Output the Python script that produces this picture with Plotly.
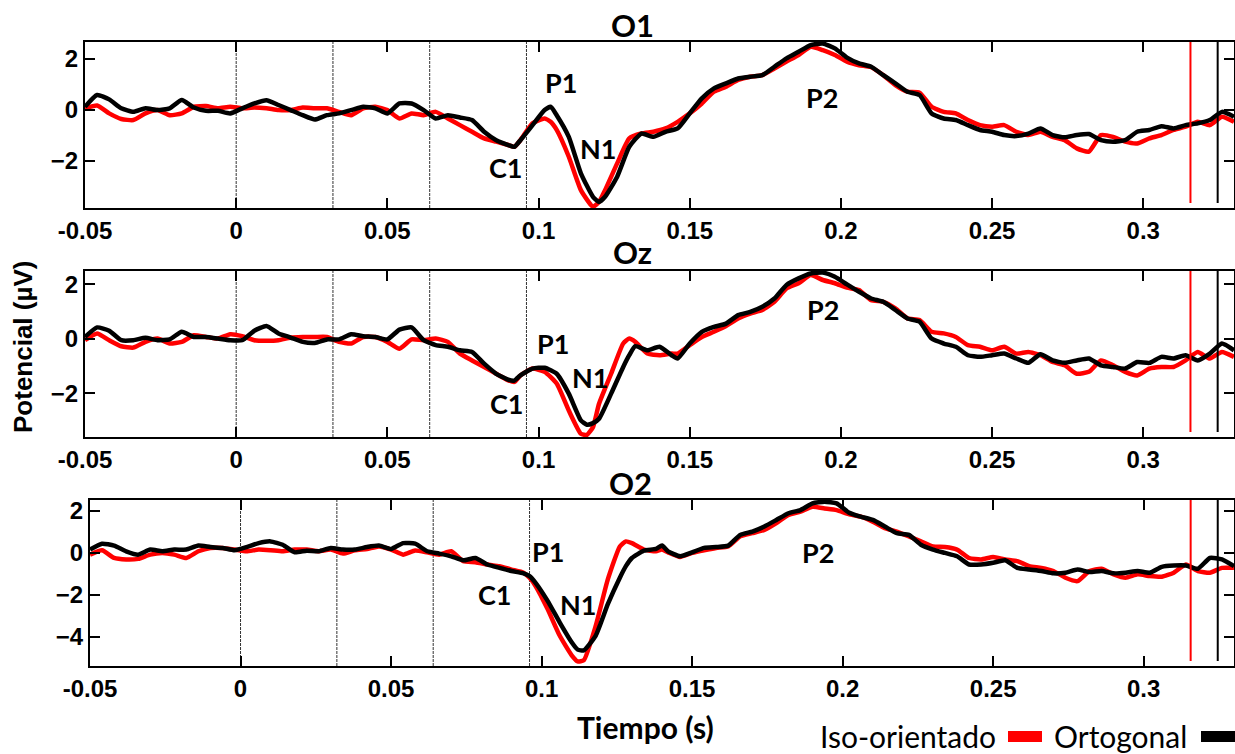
import plotly.graph_objects as go

W, H = 1235, 754

# ---------------- data ----------------
t_o1 = [-0.050, -0.046, -0.042, -0.038, -0.034, -0.030, -0.026, -0.022, -0.018, -0.014,
        -0.010, -0.006, -0.002, 0.002, 0.006, 0.010, 0.014, 0.018, 0.022, 0.026,
        0.030, 0.034, 0.038, 0.042, 0.046, 0.050, 0.054, 0.058, 0.062, 0.066,
        0.070, 0.074, 0.078, 0.082, 0.086, 0.090, 0.092, 0.094, 0.098, 0.102,
        0.104, 0.106, 0.110, 0.114, 0.118, 0.120, 0.122, 0.126, 0.130, 0.134,
        0.138, 0.142, 0.146, 0.150, 0.154, 0.158, 0.162, 0.166, 0.170, 0.174,
        0.178, 0.182, 0.186, 0.190, 0.194, 0.198, 0.202, 0.206, 0.210, 0.214,
        0.218, 0.222, 0.226, 0.230, 0.234, 0.238, 0.242, 0.246, 0.250, 0.254,
        0.258, 0.262, 0.266, 0.270, 0.274, 0.278, 0.282, 0.286, 0.290, 0.294,
        0.298, 0.302, 0.306, 0.310, 0.314, 0.318, 0.322, 0.326, 0.330]
o1_iso = [0.07, 0.18, -0.13, -0.35, -0.39, -0.13, 0.00, -0.20, -0.13, 0.13,
          0.16, 0.07, 0.13, 0.07, 0.10, 0.07, 0.00, 0.00, 0.10, 0.07,
          0.07, -0.07, -0.20, 0.07, 0.13, 0.00, -0.33, -0.13, -0.20, -0.07,
          -0.33, -0.59, -0.85, -1.11, -1.24, -1.37, -1.44, -1.18, -0.52, -0.33,
          -0.46, -0.78, -1.83, -3.14, -3.79, -3.60, -3.14, -2.09, -1.11, -0.92,
          -0.85, -0.72, -0.46, -0.13, 0.26, 0.72, 0.92, 1.18, 1.31, 1.37,
          1.63, 1.90, 2.16, 2.48, 2.35, 2.16, 1.90, 1.76, 1.68, 1.37,
          0.98, 0.72, 0.68, 0.13, -0.07, -0.13, -0.39, -0.59, -0.65, -0.59,
          -0.85, -0.98, -0.85, -1.05, -1.18, -1.50, -1.63, -0.98, -1.05, -1.24,
          -1.31, -1.11, -0.98, -0.78, -0.65, -0.46, -0.59, -0.26, -0.46]
o1_orto = [0.13, 0.59, 0.42, 0.07, -0.07, 0.07, 0.00, 0.07, 0.40, 0.10,
           -0.03, -0.03, -0.13, 0.07, 0.26, 0.39, 0.20, 0.00, -0.20, -0.37,
           -0.20, -0.13, 0.00, 0.13, 0.07, -0.13, 0.26, 0.26, 0.00, -0.33,
           -0.20, -0.29, -0.39, -0.85, -1.18, -1.37, -1.44, -1.18, -0.59, 0.00,
           0.13, -0.20, -1.05, -2.48, -3.40, -3.60, -3.40, -2.61, -1.44, -0.92,
           -1.05, -0.85, -0.72, -0.13, 0.46, 0.85, 1.05, 1.24, 1.31, 1.37,
           1.70, 2.03, 2.29, 2.55, 2.61, 2.42, 2.06, 1.83, 1.70, 1.37,
           1.05, 0.72, 0.59, -0.13, -0.33, -0.39, -0.59, -0.78, -0.85, -0.98,
           -1.02, -0.92, -0.72, -0.98, -1.07, -0.98, -0.94, -1.18, -1.24, -1.18,
           -0.85, -0.78, -0.63, -0.72, -0.59, -0.52, -0.39, -0.07, -0.26]

t_oz = [-0.050, -0.046, -0.042, -0.038, -0.034, -0.030, -0.026, -0.022, -0.018, -0.014,
        -0.010, -0.006, -0.002, 0.002, 0.006, 0.010, 0.014, 0.018, 0.022, 0.026,
        0.030, 0.034, 0.038, 0.042, 0.046, 0.050, 0.054, 0.058, 0.062, 0.066,
        0.070, 0.074, 0.078, 0.082, 0.086, 0.090, 0.092, 0.094, 0.098, 0.102,
        0.106, 0.110, 0.114, 0.116, 0.118, 0.120, 0.124, 0.128, 0.130, 0.132,
        0.136, 0.140, 0.144, 0.146, 0.150, 0.154, 0.158, 0.162, 0.166, 0.170,
        0.174, 0.178, 0.182, 0.186, 0.190, 0.194, 0.198, 0.202, 0.206, 0.210,
        0.214, 0.218, 0.222, 0.226, 0.230, 0.234, 0.238, 0.242, 0.246, 0.250,
        0.254, 0.258, 0.262, 0.266, 0.270, 0.274, 0.278, 0.282, 0.286, 0.290,
        0.294, 0.298, 0.302, 0.306, 0.310, 0.314, 0.318, 0.322, 0.326, 0.330]
oz_iso = [-0.05, 0.20, -0.05, -0.27, -0.32, -0.11, 0.01, -0.17, -0.11, 0.13,
          0.07, 0.01, 0.17, 0.10, -0.05, -0.07, -0.05, 0.05, 0.07, 0.07,
          0.07, -0.11, -0.17, 0.07, 0.07, -0.11, -0.36, -0.02, -0.05, 0.01,
          -0.11, -0.54, -0.79, -1.03, -1.28, -1.52, -1.58, -1.34, -1.09, -1.21,
          -1.64, -2.63, -3.48, -3.52, -3.24, -2.38, -1.28, -0.17, 0.01, -0.11,
          -0.54, -0.60, -0.54, -0.54, -0.23, 0.07, 0.26, 0.47, 0.75, 0.93,
          1.06, 1.36, 1.85, 2.04, 2.34, 2.16, 2.04, 1.88, 1.79, 1.42,
          1.36, 1.12, 0.75, 0.69, 0.26, 0.20, 0.07, -0.23, -0.29, -0.42,
          -0.29, -0.54, -0.48, -0.60, -0.85, -0.97, -1.28, -1.21, -0.79, -0.97,
          -1.21, -1.34, -1.09, -1.03, -1.03, -0.79, -0.48, -0.72, -0.48, -0.66]
oz_orto = [0.07, 0.42, 0.30, -0.05, -0.05, 0.04, -0.05, -0.02, 0.26, 0.07,
           0.07, 0.01, -0.05, -0.05, 0.30, 0.47, 0.20, 0.05, -0.11, -0.15,
           -0.02, -0.02, 0.17, 0.10, 0.07, -0.02, 0.34, 0.42, -0.05, -0.23,
           -0.29, -0.42, -0.48, -0.91, -1.28, -1.50, -1.53, -1.34, -1.09, -1.06,
           -1.28, -2.01, -2.99, -3.15, -3.09, -2.93, -2.01, -1.03, -0.60, -0.27,
           -0.42, -0.29, -0.60, -0.72, -0.17, 0.26, 0.44, 0.56, 0.87, 0.99,
           1.18, 1.48, 1.98, 2.22, 2.40, 2.43, 2.28, 2.00, 1.73, 1.48,
           1.36, 1.06, 0.75, 0.63, 0.01, -0.17, -0.29, -0.60, -0.66, -0.60,
           -0.54, -0.72, -0.88, -0.56, -0.79, -0.88, -0.79, -0.72, -0.97, -1.03,
           -1.09, -0.85, -0.88, -0.66, -0.72, -0.60, -0.79, -0.54, -0.17, -0.42]

t_o2 = [-0.050, -0.046, -0.042, -0.038, -0.034, -0.030, -0.026, -0.022, -0.018, -0.014,
        -0.010, -0.006, -0.002, 0.002, 0.006, 0.010, 0.014, 0.018, 0.022, 0.026,
        0.030, 0.034, 0.038, 0.042, 0.046, 0.050, 0.054, 0.058, 0.062, 0.066,
        0.070, 0.074, 0.078, 0.082, 0.086, 0.090, 0.094, 0.096, 0.098, 0.102,
        0.106, 0.110, 0.112, 0.114, 0.118, 0.122, 0.126, 0.128, 0.130, 0.134,
        0.138, 0.140, 0.142, 0.146, 0.150, 0.154, 0.158, 0.162, 0.166, 0.170,
        0.174, 0.178, 0.182, 0.186, 0.190, 0.194, 0.198, 0.202, 0.206, 0.210,
        0.214, 0.218, 0.222, 0.226, 0.230, 0.234, 0.238, 0.242, 0.246, 0.250,
        0.254, 0.258, 0.262, 0.266, 0.270, 0.274, 0.278, 0.282, 0.286, 0.290,
        0.294, 0.298, 0.302, 0.306, 0.310, 0.314, 0.318, 0.322, 0.326, 0.330]
o2_iso = [-0.08, 0.13, -0.24, -0.31, -0.28, -0.08, 0.00, -0.08, -0.24, 0.08,
          0.24, 0.24, 0.16, 0.08, 0.16, 0.13, 0.08, 0.16, 0.16, 0.08,
          0.16, -0.03, 0.13, 0.19, 0.31, 0.16, -0.08, 0.12, 0.03, -0.08,
          0.08, -0.39, -0.44, -0.55, -0.63, -0.79, -0.94, -1.18, -1.57, -2.67,
          -3.93, -4.87, -5.16, -5.11, -3.46, -1.26, 0.31, 0.55, 0.47, 0.16,
          0.08, 0.16, 0.03, -0.19, 0.00, 0.13, 0.24, 0.31, 0.79, 0.94,
          1.10, 1.42, 1.81, 1.97, 2.20, 2.12, 2.04, 1.85, 1.73, 1.49,
          1.18, 1.02, 0.79, 0.55, 0.31, 0.28, 0.16, -0.24, -0.31, -0.19,
          -0.31, -0.39, -0.63, -0.71, -0.86, -1.18, -1.34, -0.86, -0.75, -1.02,
          -1.18, -1.02, -1.10, -1.13, -0.94, -0.55, -0.86, -0.94, -0.71, -0.71]
o2_orto = [0.16, 0.44, 0.35, 0.08, -0.08, 0.16, 0.08, 0.16, 0.16, 0.35,
           0.28, 0.24, 0.13, 0.28, 0.47, 0.55, 0.39, 0.03, 0.11, 0.08,
           0.24, 0.16, 0.16, 0.28, 0.35, 0.19, 0.47, 0.44, 0.08, -0.03,
           -0.16, -0.35, -0.24, -0.55, -0.71, -0.86, -0.97, -1.10, -1.42, -2.28,
           -3.30, -4.25, -4.60, -4.64, -3.93, -2.44, -1.18, -0.63, -0.24, 0.11,
           0.19, 0.35, 0.08, -0.16, 0.03, 0.24, 0.28, 0.35, 0.86, 1.02,
           1.26, 1.57, 1.89, 2.04, 2.36, 2.44, 2.36, 1.93, 1.73, 1.57,
           1.26, 0.94, 0.86, 0.39, 0.16, 0.00, -0.16, -0.55, -0.55, -0.47,
           -0.35, -0.71, -0.79, -0.86, -0.97, -0.94, -0.79, -0.91, -0.86, -0.97,
           -0.94, -0.86, -0.94, -0.66, -0.60, -0.60, -0.75, -0.24, -0.31, -0.63]

# stimulus cycle markers (s)
ciclos = [0.0, 0.032, 0.064, 0.096]
# reaction markers (s)
marca_iso = 0.3156
marca_orto = 0.3246

x_ticks = [-0.05, 0, 0.05, 0.1, 0.15, 0.2, 0.25, 0.3]
x_ticktext = ["-0.05", "0", "0.05", "0.1", "0.15", "0.2", "0.25", "0.3"]
x_rango = [-0.05, 0.330]

canales = ["O1", "Oz", "O2"]
y_rangos = [[-3.84, 2.67], [-3.6, 2.49], [-5.38, 2.52]]
y_ticks = [[-2, 0, 2], [-2, 0, 2], [-4, -2, 0, 2]]

# peak labels (name, t, value) per channel
picos = [
    [("P1", 0.1073, 1.10), ("C1", 0.0893, -2.27), ("N1", 0.1197, -1.49), ("P2", 0.1937, 0.51)],
    [("P1", 0.1047, -0.17), ("C1", 0.0897, -2.36), ("N1", 0.1170, -1.40), ("P2", 0.1940, 1.06)],
    [("P1", 0.1020, 0.08), ("C1", 0.0845, -1.97), ("N1", 0.1120, -2.44), ("P2", 0.1918, 0.00)],
]

series = [(t_o1, o1_iso, o1_orto), (t_oz, oz_iso, oz_orto), (t_o2, o2_iso, o2_orto)]

# ---------------- layout geometry (pixels) ----------------
panel_px = [  # left, right, top, bottom
    (85, 1234, 42, 208),
    (85, 1234, 271, 437),
    (90, 1234, 500, 666),
]
title_px = [(632, 25), (632, 252), (630, 483)]

ROJO = "#ff0000"
NEGRO = "#000000"
TICK_FONT = dict(family="Liberation Sans, Arial", size=24, color="black", weight="bold")
LABEL_FONT = "Lato, Open Sans, sans-serif"


def px_x(v):
    return v / W


def px_y(v):
    return 1 - v / H


fig = go.Figure()
layout = dict(width=W, height=H, margin=dict(l=0, r=0, t=0, b=0, autoexpand=False),
              paper_bgcolor="white", plot_bgcolor="white", showlegend=False)
annotations = []
shapes = []

for i, (nombre, (t, iso, orto)) in enumerate(zip(canales, series)):
    k = "" if i == 0 else str(i + 1)
    xa, ya = "x" + k, "y" + k
    l, r, top, bot = panel_px[i]
    layout["xaxis" + k] = dict(
        domain=[px_x(l), px_x(r)], range=x_rango, anchor=ya, automargin=False,
        tickvals=x_ticks, ticktext=x_ticktext, ticks="inside", ticklen=10,
        tickwidth=1.5, tickcolor="black", showline=True, linewidth=2,
        linecolor="black", mirror="ticks", showgrid=False, zeroline=False,
        tickfont=TICK_FONT,
    )
    layout["yaxis" + k] = dict(
        domain=[px_y(bot), px_y(top)], range=y_rangos[i], anchor=xa, automargin=False,
        tickvals=y_ticks[i], ticks="inside", ticklen=10, tickwidth=1.5,
        tickcolor="black", showline=True, linewidth=2, linecolor="black",
        mirror="ticks", showgrid=False, zeroline=False, tickfont=TICK_FONT,
    )

    # cycle markers
    for c in ciclos:
        shapes.append(dict(type="line", xref=xa, yref=ya + " domain",
                           x0=c, x1=c, y0=0, y1=1, layer="below",
                           line=dict(color="#333333", width=1, dash="3px,1px")))
    # reaction markers
    for mx, col in ((marca_iso, ROJO), (marca_orto, NEGRO)):
        shapes.append(dict(type="line", xref=xa, yref=ya + " domain",
                           x0=mx, x1=mx, y0=0.03, y1=1,
                           line=dict(color=col, width=2)))

    fig.add_trace(go.Scatter(x=t, y=iso, mode="lines", name="Iso-orientado",
                             line=dict(color=ROJO, width=4.5, shape="spline", smoothing=0.5),
                             xaxis=xa, yaxis=ya))
    fig.add_trace(go.Scatter(x=t, y=orto, mode="lines", name="Ortogonal",
                             line=dict(color=NEGRO, width=4.5, shape="spline", smoothing=0.5),
                             xaxis=xa, yaxis=ya))

    tx, ty = title_px[i]
    annotations.append(dict(text="<b>%s</b>" % nombre, x=px_x(tx), y=px_y(ty),
                            xref="paper", yref="paper", showarrow=False,
                            xanchor="center", yanchor="middle",
                            font=dict(family=LABEL_FONT, size=31, color="black")))
    for (lab, px_, py_) in picos[i]:
        annotations.append(dict(text="<b>%s</b>" % lab, x=px_, y=py_, xref=xa, yref=ya,
                                showarrow=False, xanchor="center", yanchor="middle",
                                font=dict(family=LABEL_FONT, size=27, color="black")))

# axis titles
annotations.append(dict(text="<b>Tiempo (s)</b>", x=px_x(645), y=px_y(727),
                        xref="paper", yref="paper", showarrow=False,
                        xanchor="center", yanchor="middle",
                        font=dict(family=LABEL_FONT, size=30, color="black")))
annotations.append(dict(text="<b>Potencial (µV)</b>", x=px_x(23), y=px_y(347),
                        xref="paper", yref="paper", showarrow=False, textangle=-90,
                        xanchor="center", yanchor="middle",
                        font=dict(family="Liberation Sans, Arial", size=26, color="black")))

# legend: label followed by its colour swatch
leyenda = [("Iso-orientado", ROJO, 818, 1008, 1042), ("Ortogonal", NEGRO, 1052, 1201, 1240)]
for texto, col, x_txt, x0, x1 in leyenda:
    annotations.append(dict(text=texto, x=px_x(x_txt), y=px_y(736),
                            xref="paper", yref="paper", showarrow=False,
                            xanchor="left", yanchor="middle",
                            font=dict(family=LABEL_FONT, size=30, color="black")))
    shapes.append(dict(type="rect", xref="paper", yref="paper",
                       x0=px_x(x0), x1=px_x(x1), y0=px_y(742), y1=px_y(731),
                       fillcolor=col, line=dict(width=0)))

layout["annotations"] = annotations
layout["shapes"] = shapes
fig.update_layout(**layout)

fig.write_html("out.html")
